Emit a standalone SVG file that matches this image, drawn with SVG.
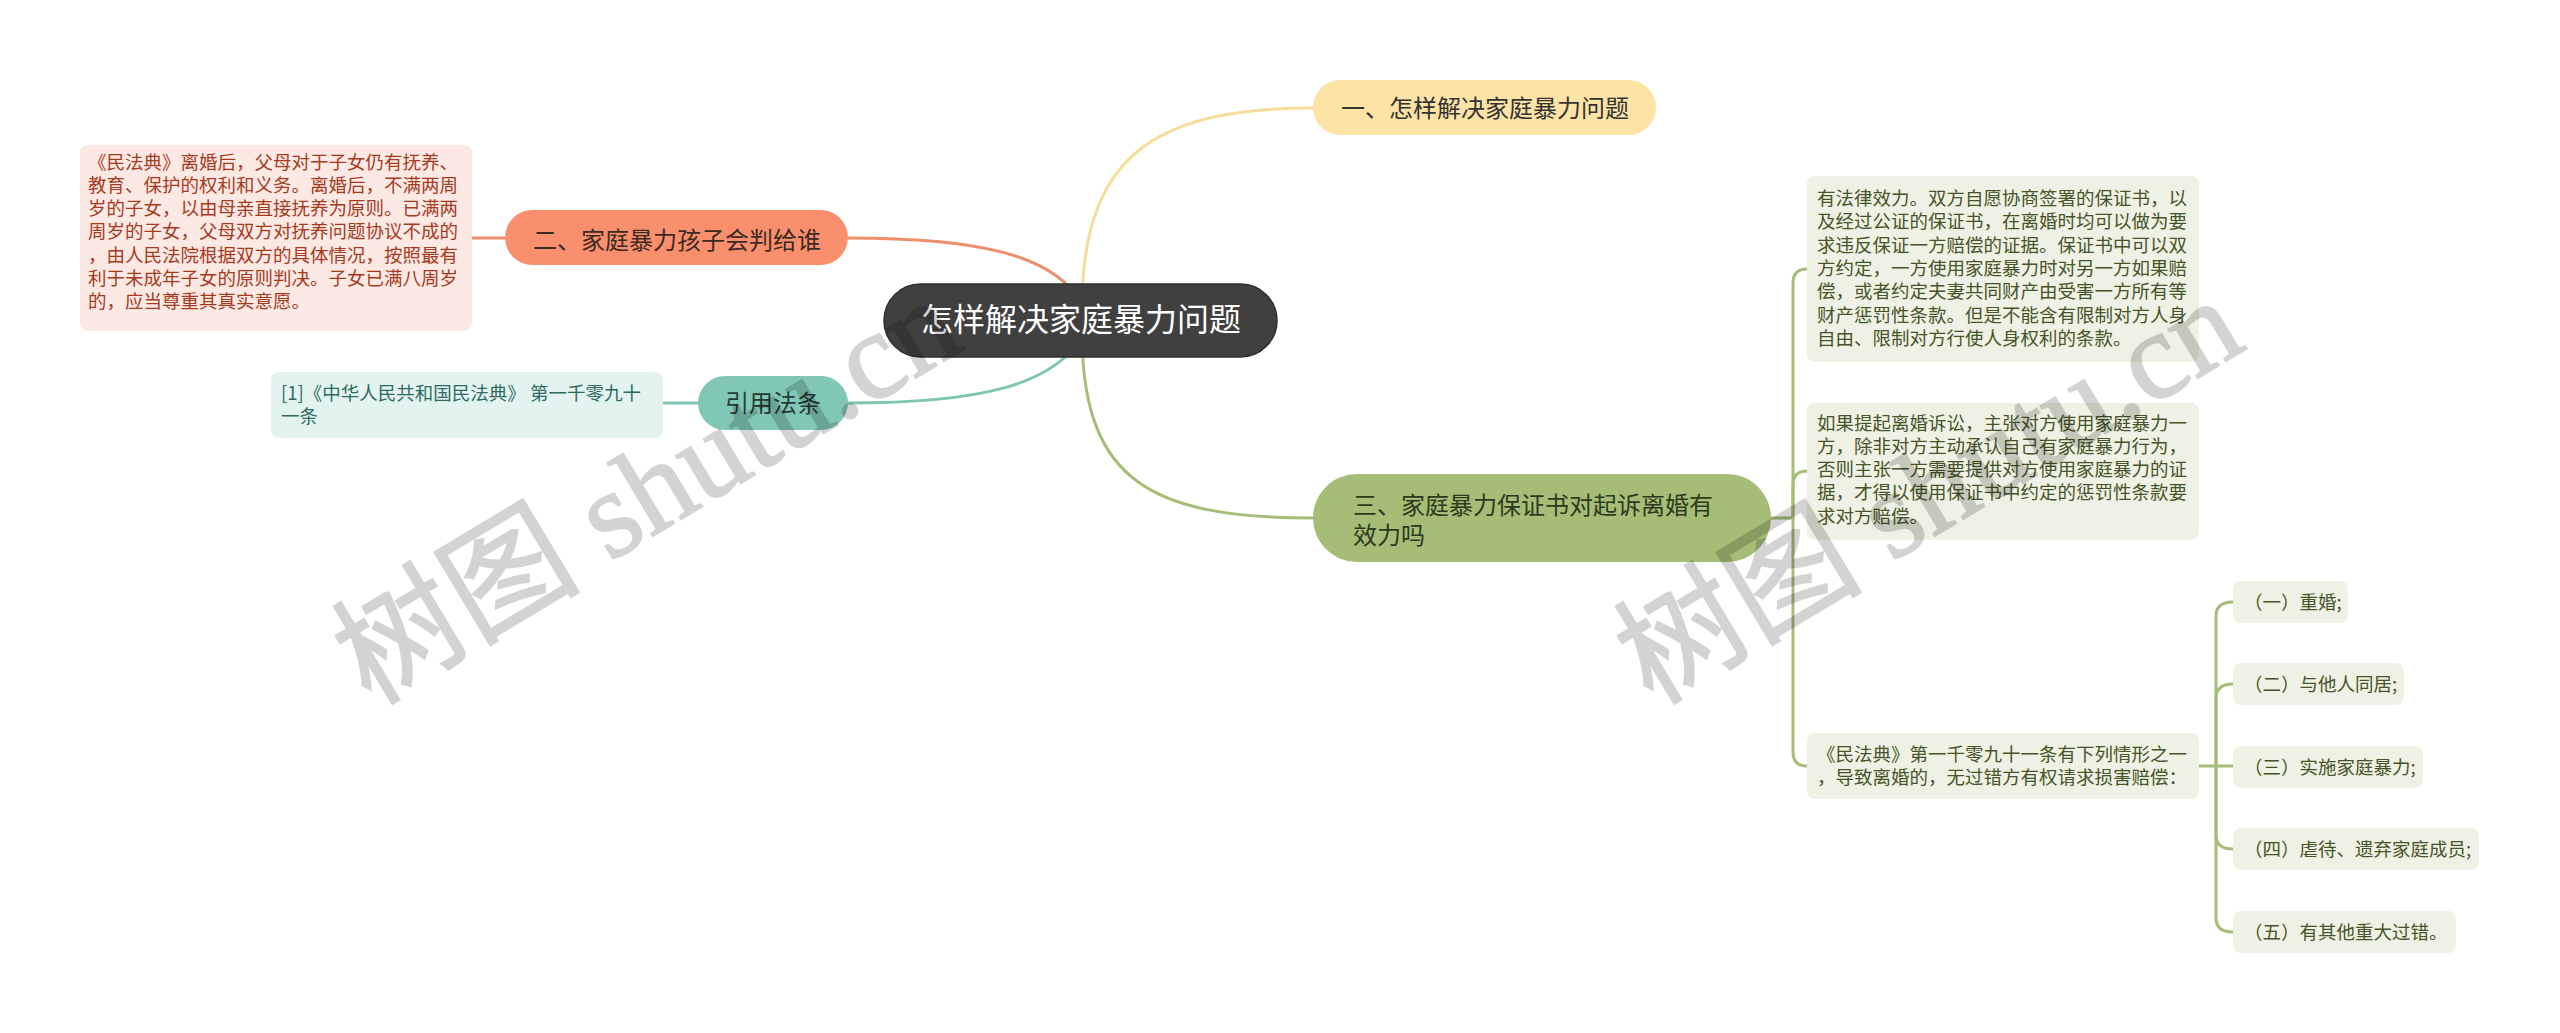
<svg xmlns="http://www.w3.org/2000/svg" width="2560" height="1033" viewBox="0 0 2560 1033">
<style>
text{font-family:"Noto Sans CJK SC","Noto Sans",sans-serif;}
.conn{fill:none;stroke-width:3;stroke-linecap:round;}
.t185{font-size:18.5px;}
.t24{font-size:24px;}
.pinkT{fill:#a63a1e;}
.greenT{fill:#46542a;}
.tealT{fill:#2d6b5f;}
.gbox{fill:#eef1e3;}
.wm{font-family:"Liberation Serif","Noto Sans CJK SC",serif;font-size:124px;fill:#000;stroke:#000;stroke-width:2;opacity:0.17;}
</style>
<rect width="2560" height="1033" fill="#ffffff"/>
<g id="connectors">
  <path class="conn" stroke="#f6dd9c" d="M1082,300 C1085,160 1150,108 1313,108"/>
  <path class="conn" stroke="#a5bd77" d="M1082,340 C1085,480 1150,518 1313,518"/>
  <path class="conn" stroke="#ee8e6d" d="M848,238 C980,238 1050,255 1080,300"/>
  <path class="conn" stroke="#7fc5b3" d="M848,403 C980,403 1050,385 1080,340"/>
  <path class="conn" stroke="#ee8e6d" d="M472,238 H505"/>
  <path class="conn" stroke="#7fc5b3" d="M663,403 H698"/>
  <path class="conn" stroke="#a5bd77" d="M1771,518 H1793"/>
  <path class="conn" stroke="#a5bd77" d="M1793,518 V283 Q1793,269 1807,269"/>
  <path class="conn" stroke="#a5bd77" d="M1793,518 V485 Q1793,471 1807,471"/>
  <path class="conn" stroke="#a5bd77" d="M1793,518 V752 Q1793,766 1807,766"/>
  <path class="conn" stroke="#a5bd77" d="M2199,766 H2233"/>
  <path class="conn" stroke="#a5bd77" d="M2216,766 V616 Q2216,602 2233,602"/>
  <path class="conn" stroke="#a5bd77" d="M2216,766 V698 Q2216,684 2233,684"/>
  <path class="conn" stroke="#a5bd77" d="M2216,766 V835 Q2216,849 2233,849"/>
  <path class="conn" stroke="#a5bd77" d="M2216,766 V918 Q2216,932 2233,932"/>
</g>
<g id="root">
  <rect x="884" y="284" width="393" height="73" rx="36.5" fill="#404040" stroke="#2e2e2e" stroke-width="1.5"/>
  <text x="1081" y="331" font-size="32" fill="#ffffff" text-anchor="middle">怎样解决家庭暴力问题</text>
</g>
<g id="n1">
  <rect x="1313" y="80" width="343" height="55" rx="27.5" fill="#fde3a6"/>
  <text class="t24" x="1485" y="116.5" fill="#333333" text-anchor="middle">一、怎样解决家庭暴力问题</text>
</g>
<g id="n2">
  <rect x="505" y="210" width="343" height="55" rx="27.5" fill="#f98f6d"/>
  <text class="t24" x="677" y="248.5" fill="#3d2a22" text-anchor="middle">二、家庭暴力孩子会判给谁</text>
</g>
<g id="n2a">
  <rect x="80" y="145" width="392" height="186" rx="8" fill="#fde9e4"/>
  <text class="t185 pinkT" x="88" y="168.5">《民法典》离婚后，父母对于子女仍有抚养、</text>
  <text class="t185 pinkT" x="88" y="191.8">教育、保护的权利和义务。离婚后，不满两周</text>
  <text class="t185 pinkT" x="88" y="215.1">岁的子女，以由母亲直接抚养为原则。已满两</text>
  <text class="t185 pinkT" x="88" y="238.4">周岁的子女，父母双方对抚养问题协议不成的</text>
  <text class="t185 pinkT" x="88" y="261.7">，由人民法院根据双方的具体情况，按照最有</text>
  <text class="t185 pinkT" x="88" y="285">利于未成年子女的原则判决。子女已满八周岁</text>
  <text class="t185 pinkT" x="88" y="308.3">的，应当尊重其真实意愿。</text>
</g>
<g id="ref">
  <rect x="698" y="376" width="150" height="54" rx="27" fill="#80c7b5"/>
  <text class="t24" x="773" y="411.5" fill="#263b36" text-anchor="middle">引用法条</text>
</g>
<g id="refa">
  <rect x="271" y="372" width="392" height="66" rx="8" fill="#e3f4f0"/>
  <text class="t185 tealT" x="281" y="400">[1]《中华人民共和国民法典》 第一千零九十</text>
  <text class="t185 tealT" x="281" y="423.3">一条</text>
</g>
<g id="n3">
  <rect x="1313" y="474" width="458" height="88" rx="44" fill="#a5bd77"/>
  <text class="t24" x="1353" y="513.5" fill="#2d3a1b">三、家庭暴力保证书对起诉离婚有</text>
  <text class="t24" x="1353" y="543.5" fill="#2d3a1b">效力吗</text>
</g>
<g id="n3a">
  <rect class="gbox" x="1807" y="176" width="392" height="186" rx="8"/>
  <text class="t185 greenT" x="1817" y="205">有法律效力。双方自愿协商签署的保证书，以</text>
  <text class="t185 greenT" x="1817" y="228.3">及经过公证的保证书，在离婚时均可以做为要</text>
  <text class="t185 greenT" x="1817" y="251.6">求违反保证一方赔偿的证据。保证书中可以双</text>
  <text class="t185 greenT" x="1817" y="274.9">方约定，一方使用家庭暴力时对另一方如果赔</text>
  <text class="t185 greenT" x="1817" y="298.2">偿，或者约定夫妻共同财产由受害一方所有等</text>
  <text class="t185 greenT" x="1817" y="321.5">财产惩罚性条款。但是不能含有限制对方人身</text>
  <text class="t185 greenT" x="1817" y="344.8">自由、限制对方行使人身权利的条款。</text>
</g>
<g id="n3b">
  <rect class="gbox" x="1807" y="403" width="392" height="137" rx="8"/>
  <text class="t185 greenT" x="1817" y="429.5">如果提起离婚诉讼，主张对方使用家庭暴力一</text>
  <text class="t185 greenT" x="1817" y="452.8">方，除非对方主动承认自己有家庭暴力行为，</text>
  <text class="t185 greenT" x="1817" y="476.1">否则主张一方需要提供对方使用家庭暴力的证</text>
  <text class="t185 greenT" x="1817" y="499.4">据，才得以使用保证书中约定的惩罚性条款要</text>
  <text class="t185 greenT" x="1817" y="522.7">求对方赔偿。</text>
</g>
<g id="n3c">
  <rect class="gbox" x="1807" y="733" width="392" height="66" rx="8"/>
  <text class="t185 greenT" x="1817" y="761">《民法典》第一千零九十一条有下列情形之一</text>
  <text class="t185 greenT" x="1817" y="784.3">，导致离婚的，无过错方有权请求损害赔偿：</text>
</g>
<g id="s1">
  <rect class="gbox" x="2233" y="581" width="115" height="42" rx="8"/>
  <text class="t185 greenT" x="2244" y="608.5">（一）重婚;</text>
</g>
<g id="s2">
  <rect class="gbox" x="2233" y="663" width="171" height="42" rx="8"/>
  <text class="t185 greenT" x="2244" y="690.5">（二）与他人同居;</text>
</g>
<g id="s3">
  <rect class="gbox" x="2233" y="746" width="190" height="42" rx="8"/>
  <text class="t185 greenT" x="2244" y="773.5">（三）实施家庭暴力;</text>
</g>
<g id="s4">
  <rect class="gbox" x="2233" y="828" width="246" height="42" rx="8"/>
  <text class="t185 greenT" x="2244" y="855.5">（四）虐待、遗弃家庭成员;</text>
</g>
<g id="s5">
  <rect class="gbox" x="2233" y="911" width="223" height="42" rx="8"/>
  <text class="t185 greenT" x="2244" y="938.5">（五）有其他重大过错。</text>
</g>
<g id="watermark">
  <text class="wm" transform="translate(370,706) rotate(-31)">树图 shutu.cn</text>
  <text class="wm" transform="translate(1652,706) rotate(-31)">树图 shutu.cn</text>
</g>
</svg>
